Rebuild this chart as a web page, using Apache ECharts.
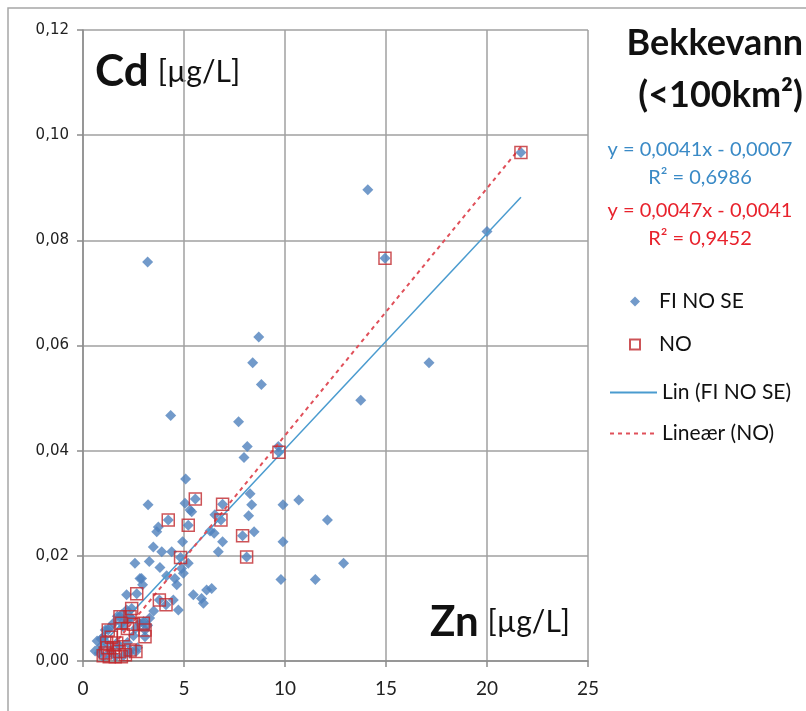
<!DOCTYPE html>
<html>
<head>
<meta charset="utf-8">
<script src="https://cdn.jsdelivr.net/npm/echarts@6/dist/echarts.min.js"></script>
<style>
html,body{margin:0;padding:0;background:#fff;}
#chart{width:806px;height:711px;}
</style>
</head>
<body>
<div id="chart"></div>
<script>
// ---- data (Zn [µg/L], Cd [µg/L]) ----
var fiNoSe = [
  [21.68,0.0967],[14.95,0.0766],[20.0,0.0817],[14.1,0.0896],[3.2,0.0759],[17.13,0.0567],[13.75,0.0496],
  [8.7,0.0616],[8.4,0.0567],[8.83,0.0526],[7.7,0.0455],[4.34,0.0467],[8.13,0.0408],[7.97,0.0387],
  [9.7,0.0397],[9.67,0.0408],[5.08,0.0346],[8.27,0.0318],[8.35,0.0297],[8.2,0.0276],[8.47,0.0246],
  [7.9,0.0238],[8.1,0.0198],[9.9,0.0297],[10.68,0.0306],[9.9,0.0227],[12.1,0.0268],[12.9,0.0186],
  [9.8,0.0155],[11.5,0.0155],
  [5.56,0.0308],[6.91,0.0298],[3.22,0.0297],[4.22,0.0268],[5.21,0.0258],[6.83,0.0268],[6.91,0.0227],
  [6.7,0.0208],[6.49,0.0243],[6.29,0.0247],[6.53,0.0278],[5.3,0.0287],[5.05,0.0300],[5.38,0.0284],
  [3.73,0.0255],[3.65,0.0246],[4.93,0.0227],[3.48,0.0217],[3.9,0.0208],[4.39,0.0208],[4.83,0.0197],
  [5.21,0.0186],[2.57,0.0186],[3.28,0.0189],[3.81,0.0178],[4.14,0.0162],[2.9,0.0157],[4.97,0.0167],
  [4.88,0.0176],[4.55,0.0157],[4.64,0.0145],[2.82,0.0157],[2.95,0.0145],[2.66,0.0128],[2.16,0.0126],
  [3.78,0.0116],[4.11,0.0107],[5.46,0.0126],[5.87,0.0119],[6.12,0.0135],[6.37,0.0138],[5.96,0.0110],
  [4.72,0.0097],[4.47,0.0116],[2.41,0.0100],[2.16,0.0097],
  [0.6,0.0019],[0.7,0.0038],[0.9,0.0042],[0.8,0.0015],[1.0,0.0045],[1.1,0.0059],[1.3,0.0063],
  [1.5,0.0072],[1.7,0.0085],[1.9,0.0088],[2.0,0.0065],[2.2,0.0078],[2.4,0.0081],[2.6,0.0062],
  [2.8,0.0072],[3.0,0.0075],[3.2,0.0068],[2.5,0.0048],[2.2,0.0035],[1.8,0.0028],[1.4,0.0022],
  [1.2,0.0012],[1.6,0.0008],[2.0,0.0010],[2.3,0.0015],[2.7,0.0025],[3.3,0.0082],[3.5,0.0095],
  [1.0,0.0008],[0.9,0.0028],
  [1.83,0.0084],[2.33,0.0084],[1.91,0.0072],[2.99,0.0072],[3.07,0.0059],[3.07,0.0046],[1.25,0.0059],
  [1.17,0.0034],[1.67,0.0034],[2.33,0.0021],[2.62,0.0018]
];
var noData = [
  [21.68,0.0967],[14.95,0.0766],[9.7,0.0397],[6.91,0.0298],[5.56,0.0308],[4.22,0.0268],[6.83,0.0268],
  [5.21,0.0258],[7.9,0.0238],[8.1,0.0198],[4.83,0.0197],[2.66,0.0128],[3.78,0.0116],[4.11,0.0107],
  [2.41,0.0100],[1.83,0.0084],[2.33,0.0084],[1.91,0.0072],[2.99,0.0072],[3.07,0.0059],[3.07,0.0046],
  [1.25,0.0059],[1.17,0.0034],[1.67,0.0034],[2.33,0.0021],[2.62,0.0018],[1.3,0.0008],[1.6,0.0008],
  [1.9,0.0008],[2.1,0.0012],[1.1,0.0015],[1.4,0.0045],[2.0,0.0050],[1.5,0.0025],[1.2,0.0025],
  [1.8,0.0018],[2.5,0.0070],[2.2,0.0062],[1.0,0.0010]
];
// trendline coefficients [slope, intercept] as printed on the chart
var fitFiNoSe = [0.0041, -0.0007];
var fitNo = [0.0047, -0.0041];
var eqFiNoSe = ['y = 0,0041x - 0,0007', 'R² = 0,6986'];
var eqNo = ['y = 0,0047x - 0,0041', 'R² = 0,9452'];
var xTicks = [0, 5, 10, 15, 20, 25];
var yTicks = [0, 0.02, 0.04, 0.06, 0.08, 0.10, 0.12];
var seriesNames = ['FI NO SE', 'NO', 'Lin (FI NO SE)', 'Lineær (NO)'];

function trend(data, fit) {
  var xs = data.map(function (d) { return d[0]; });
  var lo = Math.min.apply(null, xs), hi = Math.max.apply(null, xs);
  return [[lo, fit[0] * lo + fit[1]], [hi, fit[0] * hi + fit[1]]];
}

var chart = echarts.init(document.getElementById('chart'), null, {renderer: 'canvas'});
var blue = '#4F81BD', red = '#C0282D', lineBlue = '#4A9BCF', lineRed = '#E0505A';
var legendText = {fontFamily: 'Lato', fontSize: 21, color: '#111'};
var option = {
  backgroundColor: '#fff',
  animation: false,
  grid: {left: 83, right: 218, top: 30, bottom: 50},
  xAxis: {
    type: 'value', min: xTicks[0], max: xTicks[xTicks.length - 1], interval: 5,
    axisLine: {show: true, lineStyle: {color: '#8c8c8c', width: 1.5}},
    axisTick: {show: true, length: 6, lineStyle: {color: '#8c8c8c', width: 1.5}},
    axisLabel: {fontFamily: 'Lato', fontSize: 19, color: '#222', margin: 18},
    splitLine: {show: true, lineStyle: {color: '#a0a0a0', width: 1.5}}
  },
  yAxis: {
    type: 'value', min: yTicks[0], max: yTicks[yTicks.length - 1], interval: 0.02,
    axisLine: {show: true, lineStyle: {color: '#8c8c8c', width: 1.5}},
    axisTick: {show: true, length: 6, lineStyle: {color: '#8c8c8c', width: 1.5}},
    axisLabel: {fontFamily: 'DejaVu Sans', fontSize: 15, color: '#222', margin: 14,
      formatter: function (v) { return v.toFixed(2).replace('.', ','); }},
    splitLine: {show: true, lineStyle: {color: '#a0a0a0', width: 1.5}}
  },
  legend: [
    {
      orient: 'vertical', left: 624, top: 286, itemWidth: 10, itemHeight: 10, itemGap: 22,
      textStyle: Object.assign({padding: [0, 0, 0, 14]}, legendText),
      data: [
        {name: seriesNames[0], icon: 'diamond'},
        {name: seriesNames[1], icon: 'rect'}
      ]
    },
    {
      orient: 'vertical', left: 604, top: 377, itemWidth: 47, itemHeight: 10, itemGap: 20,
      textStyle: legendText,
      data: [
        {name: seriesNames[2], itemStyle: {opacity: 0}},
        {name: seriesNames[3], itemStyle: {opacity: 0}}
      ]
    }
  ],
  series: [
    {name: seriesNames[0], type: 'scatter', data: fiNoSe, symbol: 'diamond', symbolSize: 11,
      itemStyle: {color: blue}, z: 2},
    {name: seriesNames[1], type: 'scatter', data: noData, symbol: 'rect', symbolSize: 12,
      itemStyle: {color: 'rgba(0,0,0,0)', borderColor: red, borderWidth: 1.5}, z: 4},
    {name: seriesNames[2], type: 'line', data: trend(fiNoSe, fitFiNoSe), symbol: 'none', showSymbol: false,
      lineStyle: {color: lineBlue, width: 1.5}, itemStyle: {color: lineBlue}, z: 3},
    {name: seriesNames[3], type: 'line', data: trend(noData, fitNo), symbol: 'none', showSymbol: false,
      lineStyle: {color: lineRed, width: 2, type: [4, 4]}, itemStyle: {color: lineRed}, z: 3}
  ],
  graphic: [
    {type: 'rect', shape: {x: 8, y: 8, width: 830, height: 740},
      style: {fill: 'none', stroke: '#a6a6a6', lineWidth: 1.5}, silent: true},
    {type: 'text', left: 95, top: 50, style: {
      text: '{a|Cd}{b|[µg/L]}',
      rich: {a: {fontFamily: 'Lato', fontWeight: 'bold', fontSize: 44, fill: '#111'},
             b: {fontFamily: 'Lato', fontSize: 30, fill: '#111', padding: [0, 0, 0, 9]}}}},
    {type: 'text', left: 430, top: 601, style: {
      text: '{a|Zn}{b|[µg/L]}',
      rich: {a: {fontFamily: 'Lato', fontWeight: 'bold', fontSize: 42, fill: '#111'},
             b: {fontFamily: 'Lato', fontSize: 30, fill: '#111', padding: [0, 0, 0, 9]}}}},
    {type: 'text', right: 3, top: 25, style: {text: 'Bekkevann', align: 'right',
      fontFamily: 'Lato', fontWeight: 'bold', fontSize: 36, fill: '#111'}},
    {type: 'text', right: 3, top: 77, style: {text: '(<100km²)', align: 'right',
      fontFamily: 'Lato', fontWeight: 'bold', fontSize: 36, fill: '#111'}},
    {type: 'text', x: 700, y: 150, style: {text: eqFiNoSe[0], align: 'center', verticalAlign: 'middle',
      fontFamily: 'Lato', fontSize: 20, fill: '#3A8AC6'}},
    {type: 'text', x: 700, y: 178, style: {text: eqFiNoSe[1], align: 'center', verticalAlign: 'middle',
      fontFamily: 'Lato', fontSize: 20, fill: '#3A8AC6'}},
    {type: 'text', x: 700, y: 211, style: {text: eqNo[0], align: 'center', verticalAlign: 'middle',
      fontFamily: 'Lato', fontSize: 20, fill: '#E8222C'}},
    {type: 'text', x: 700, y: 239, style: {text: eqNo[1], align: 'center', verticalAlign: 'middle',
      fontFamily: 'Lato', fontSize: 20, fill: '#E8222C'}}
  ]
};
chart.setOption(option);
</script>
</body>
</html>
